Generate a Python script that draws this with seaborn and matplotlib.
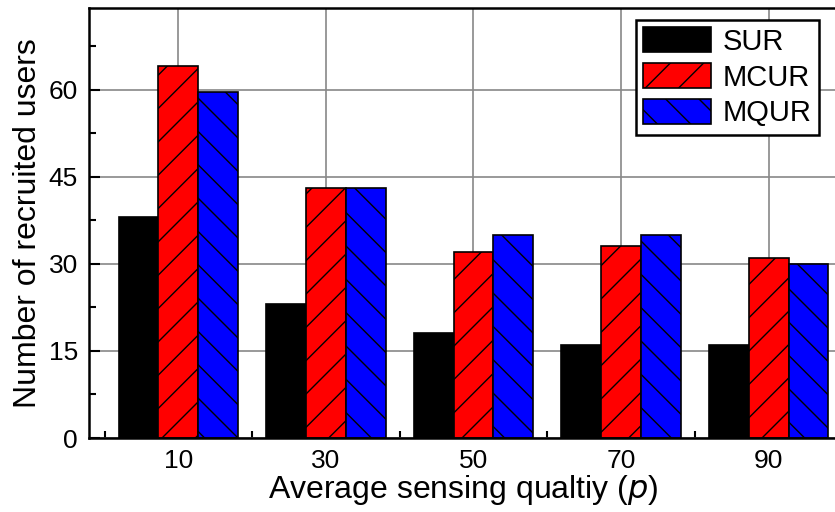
import seaborn as sns
import pandas as pd
import matplotlib
matplotlib.use('Agg')
from matplotlib import pyplot as plt
from matplotlib.ticker import MultipleLocator

# values
quality = ['10', '30', '50', '70', '90']
sur = [38, 23, 18, 16, 16]
mcur = [64, 43, 32, 33, 31]
mqur = [59.5, 43, 35, 35, 30]

methods = ['SUR', 'MCUR', 'MQUR']
colors = ['black', 'red', 'blue']
hatches = ['', '/', '\\']

rows = []
for name, vals in zip(methods, [sur, mcur, mqur]):
    for q, v in zip(quality, vals):
        rows.append({'Quality': q, 'Users': v, 'Method': name})
df = pd.DataFrame(rows)

sns.set_style('ticks')
plt.rcParams['font.family'] = ['Liberation Sans', 'DejaVu Sans']
plt.rcParams['hatch.linewidth'] = 1.0
for k in ['text.color', 'axes.labelcolor', 'xtick.color', 'ytick.color']:
    plt.rcParams[k] = 'black'

fig = plt.figure(figsize=(8.35, 5.12), dpi=100)
ax = fig.add_axes([0.1066, 0.1445, 0.897, 0.8395])

sns.barplot(data=df, x='Quality', y='Users', hue='Method', order=quality,
            hue_order=methods, palette=colors, width=0.81, gap=0,
            edgecolor='black', linewidth=1.2, saturation=1, ax=ax, legend=False)

for cont, h in zip(ax.containers, hatches):
    for p in cont.patches:
        p.set_hatch(h)
        p.set_edgecolor('black')

ax.set_xlim(-0.605, 4.47)
ax.set_ylim(0, 74)
ax.yaxis.set_major_locator(MultipleLocator(15))
ax.yaxis.set_minor_locator(MultipleLocator(7.5))
ax.set_xticks(range(5))
ax.set_xticklabels(quality)
ax.set_xticks([-0.5, 0.5, 1.5, 2.5, 3.5], minor=True)

ax.grid(True, which='major', color='#888888', linewidth=1.2)
ax.set_axisbelow(True)
ax.tick_params(which='major', direction='in', length=8, width=1.5, labelsize=19, pad=8)
ax.tick_params(which='minor', direction='in', length=5, width=1.5)
for s in ax.spines.values():
    s.set_linewidth(1.8)
    s.set_color('black')

ax.set_xlabel('Average sensing qualtiy ($p$)', fontsize=23, labelpad=0)
ax.set_ylabel('Number of recruited users', fontsize=23, labelpad=4)

leg = ax.legend(ax.containers, methods, loc='upper right', bbox_to_anchor=(0.975, 0.973),
                fontsize=21, frameon=True, fancybox=False, edgecolor='black',
                framealpha=1, handlelength=2.35, handleheight=0.95, borderpad=0.25,
                labelspacing=0.25, handletextpad=0.4, borderaxespad=0)
leg.get_frame().set_linewidth(1.8)

fig.savefig('out.png', dpi=100)
